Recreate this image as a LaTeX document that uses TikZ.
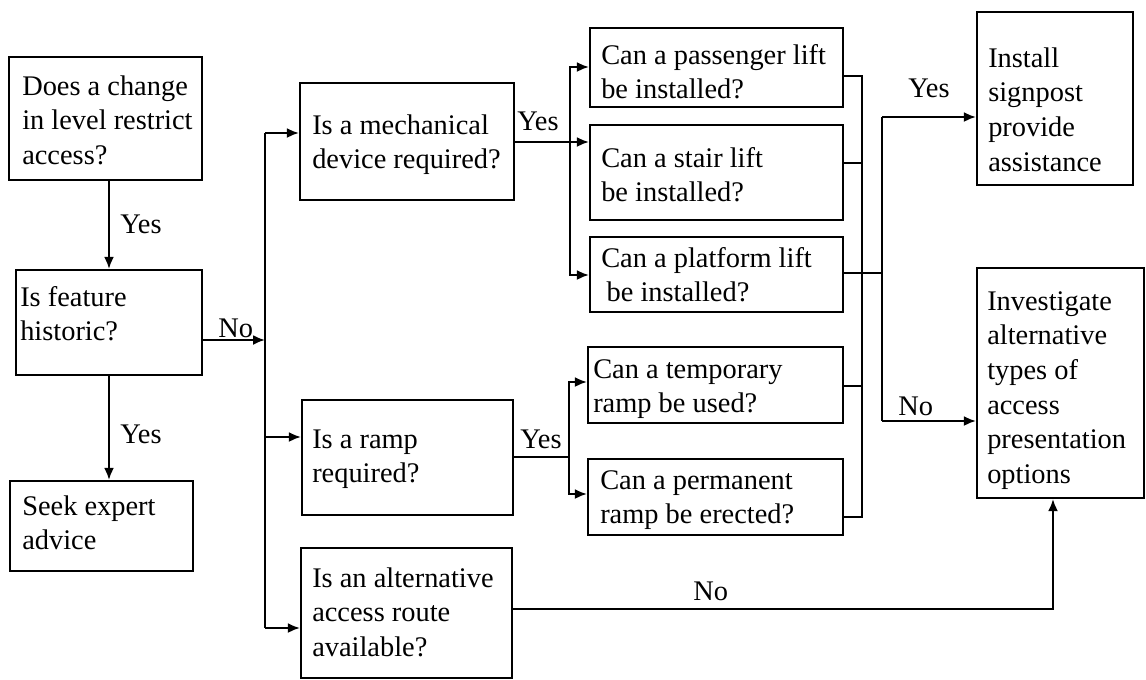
\documentclass[tikz,border=0pt]{standalone}
\usepackage{fontspec}
\setmainfont{Liberation Serif}
\usetikzlibrary{arrows.meta,fit}
\begin{document}
\begin{tikzpicture}[x=0.75pt,y=-0.75pt,
  box/.style={draw, line width=1.6pt, inner sep=0pt, fit={#1}},
  txt/.style={anchor=north west, inner sep=0pt, align=left, font=\fontsize{21.3}{26}\selectfont},
  lbl/.style={anchor=base west, inner sep=0pt, font=\fontsize{21.3}{26}\selectfont},
  con/.style={line width=1.6pt},
  arr/.style={con, -{Latex[length=9pt,width=7.5pt]}}]
\useasboundingbox (0,0) rectangle (1146,679);
% boxes
\node[box={(9,57)(202,180)}] (A) {};
\node[box={(16,270)(202,375)}] (B) {};
\node[box={(10,481)(193,571)}] (C) {};
\node[box={(300,83)(514,200)}] (M) {};
\node[box={(302,400)(513,515)}] (R) {};
\node[box={(301,548)(512,678)}] (L) {};
\node[box={(590,28)(843,107)}] (P) {};
\node[box={(590,125)(843,220)}] (S) {};
\node[box={(590,237)(843,312)}] (F) {};
\node[box={(588,347)(843,423)}] (T) {};
\node[box={(588,459)(843,535)}] (Q) {};
\node[box={(977,12)(1133,185)}] (I) {};
\node[box={(977,268)(1144,498)}] (V) {};
% texts
\node[txt] (At) at (22,70.7) {\strut Does a change\\in level restrict\\access?};
\node[txt] (Bt) at (20,281.7) {\strut Is feature\\historic?};
\node[txt] (Ct) at (22,490.7) {\strut Seek expert\\advice};
\node[txt] (Mt) at (312,109.7) {\strut Is a mechanical\\device required?};
\node[txt] (Rt) at (312,423.7) {\strut Is a ramp\\required?};
\node[txt] (Lt) at (312,562.7) {\strut Is an alternative\\access route\\available?};
\node[txt] (Pt) at (601,39.7) {\strut Can a passenger lift\\be installed?};
\node[txt] (St) at (601,142.7) {\strut Can a stair lift\\be installed?};
\node[txt] (Ft) at (601,242.7) {\strut Can a platform lift\\\hspace{4pt}be installed?};
\node[txt] (Tt) at (593,353.7) {\strut Can a temporary\\ramp be used?};
\node[txt] (Qt) at (600,464.7) {\strut Can a permanent\\ramp be erected?};
\node[txt] (It) at (988,42.7) {\strut Install\\signpost\\provide\\assistance};
\node[txt] (Vt) at (987,285.7) {\strut Investigate\\alternative\\types of\\access\\presentation\\options};
% labels
\node[lbl] (yAB) at (120,233) {Yes};
\node[lbl] (yBC) at (120,443) {Yes};
\node[lbl] (nB) at (218,337) {No};
\node[lbl] (yM) at (517,130) {Yes};
\node[lbl] (yR) at (520,448) {Yes};
\node[lbl] (yI) at (908,97) {Yes};
\node[lbl] (nV) at (898,415) {No};
\node[lbl] (nL) at (693,600) {No};
% coordinates
\coordinate (bNo) at (265,340);
\coordinate (bTop) at (265,133);
\coordinate (bRamp) at (265,437);
\coordinate (bBot) at (265,628);
\coordinate (mY) at (570,142);
\coordinate (mTop) at (570,67);
\coordinate (mBot) at (570,275);
\coordinate (rY) at (569,457);
\coordinate (rTop) at (569,382);
\coordinate (rBot) at (569,494);
\coordinate (c1) at (862,76);
\coordinate (c2) at (862,163);
\coordinate (c4) at (862,386);
\coordinate (c5) at (862,517);
\coordinate (cF) at (882,273);
\coordinate (cYes) at (882,117);
\coordinate (cNo) at (882,421);
\coordinate (aL) at (1053,609);
% connectors
\draw[arr] (A.south -| B.north) -- (B.north);
\draw[arr] (B.south) -- (B.south |- C.north);
\draw[arr] (B.east |- bNo) -- (bNo);
\draw[con] (bTop) -- (bBot);
\draw[arr] (bTop) -- (bTop -| M.west);
\draw[arr] (bRamp) -- (bRamp -| R.west);
\draw[arr] (bBot) -- (bBot -| L.west);
\draw[arr] (M.east |- mY) -- (mY -| S.west);
\draw[arr] (mY) -- (mTop) -- (mTop -| P.west);
\draw[arr] (mY) -- (mBot) -- (mBot -| F.west);
\draw[con] (R.east |- rY) -- (rY);
\draw[arr] (rY) -- (rTop) -- (rTop -| T.west);
\draw[arr] (rY) -- (rBot) -- (rBot -| Q.west);
\draw[con] (P.east |- c1) -- (c1) -- (c5) -- (Q.east |- c5);
\draw[con] (S.east |- c2) -- (c2);
\draw[con] (T.east |- c4) -- (c4);
\draw[con] (F.east |- cF) -- (cF);
\draw[con] (cYes) -- (cNo);
\draw[arr] (cYes) -- (cYes -| I.west);
\draw[arr] (cNo) -- (cNo -| V.west);
\draw[arr] (L.east |- aL) -- (aL) -- (aL |- V.south);
\end{tikzpicture}
\end{document}
